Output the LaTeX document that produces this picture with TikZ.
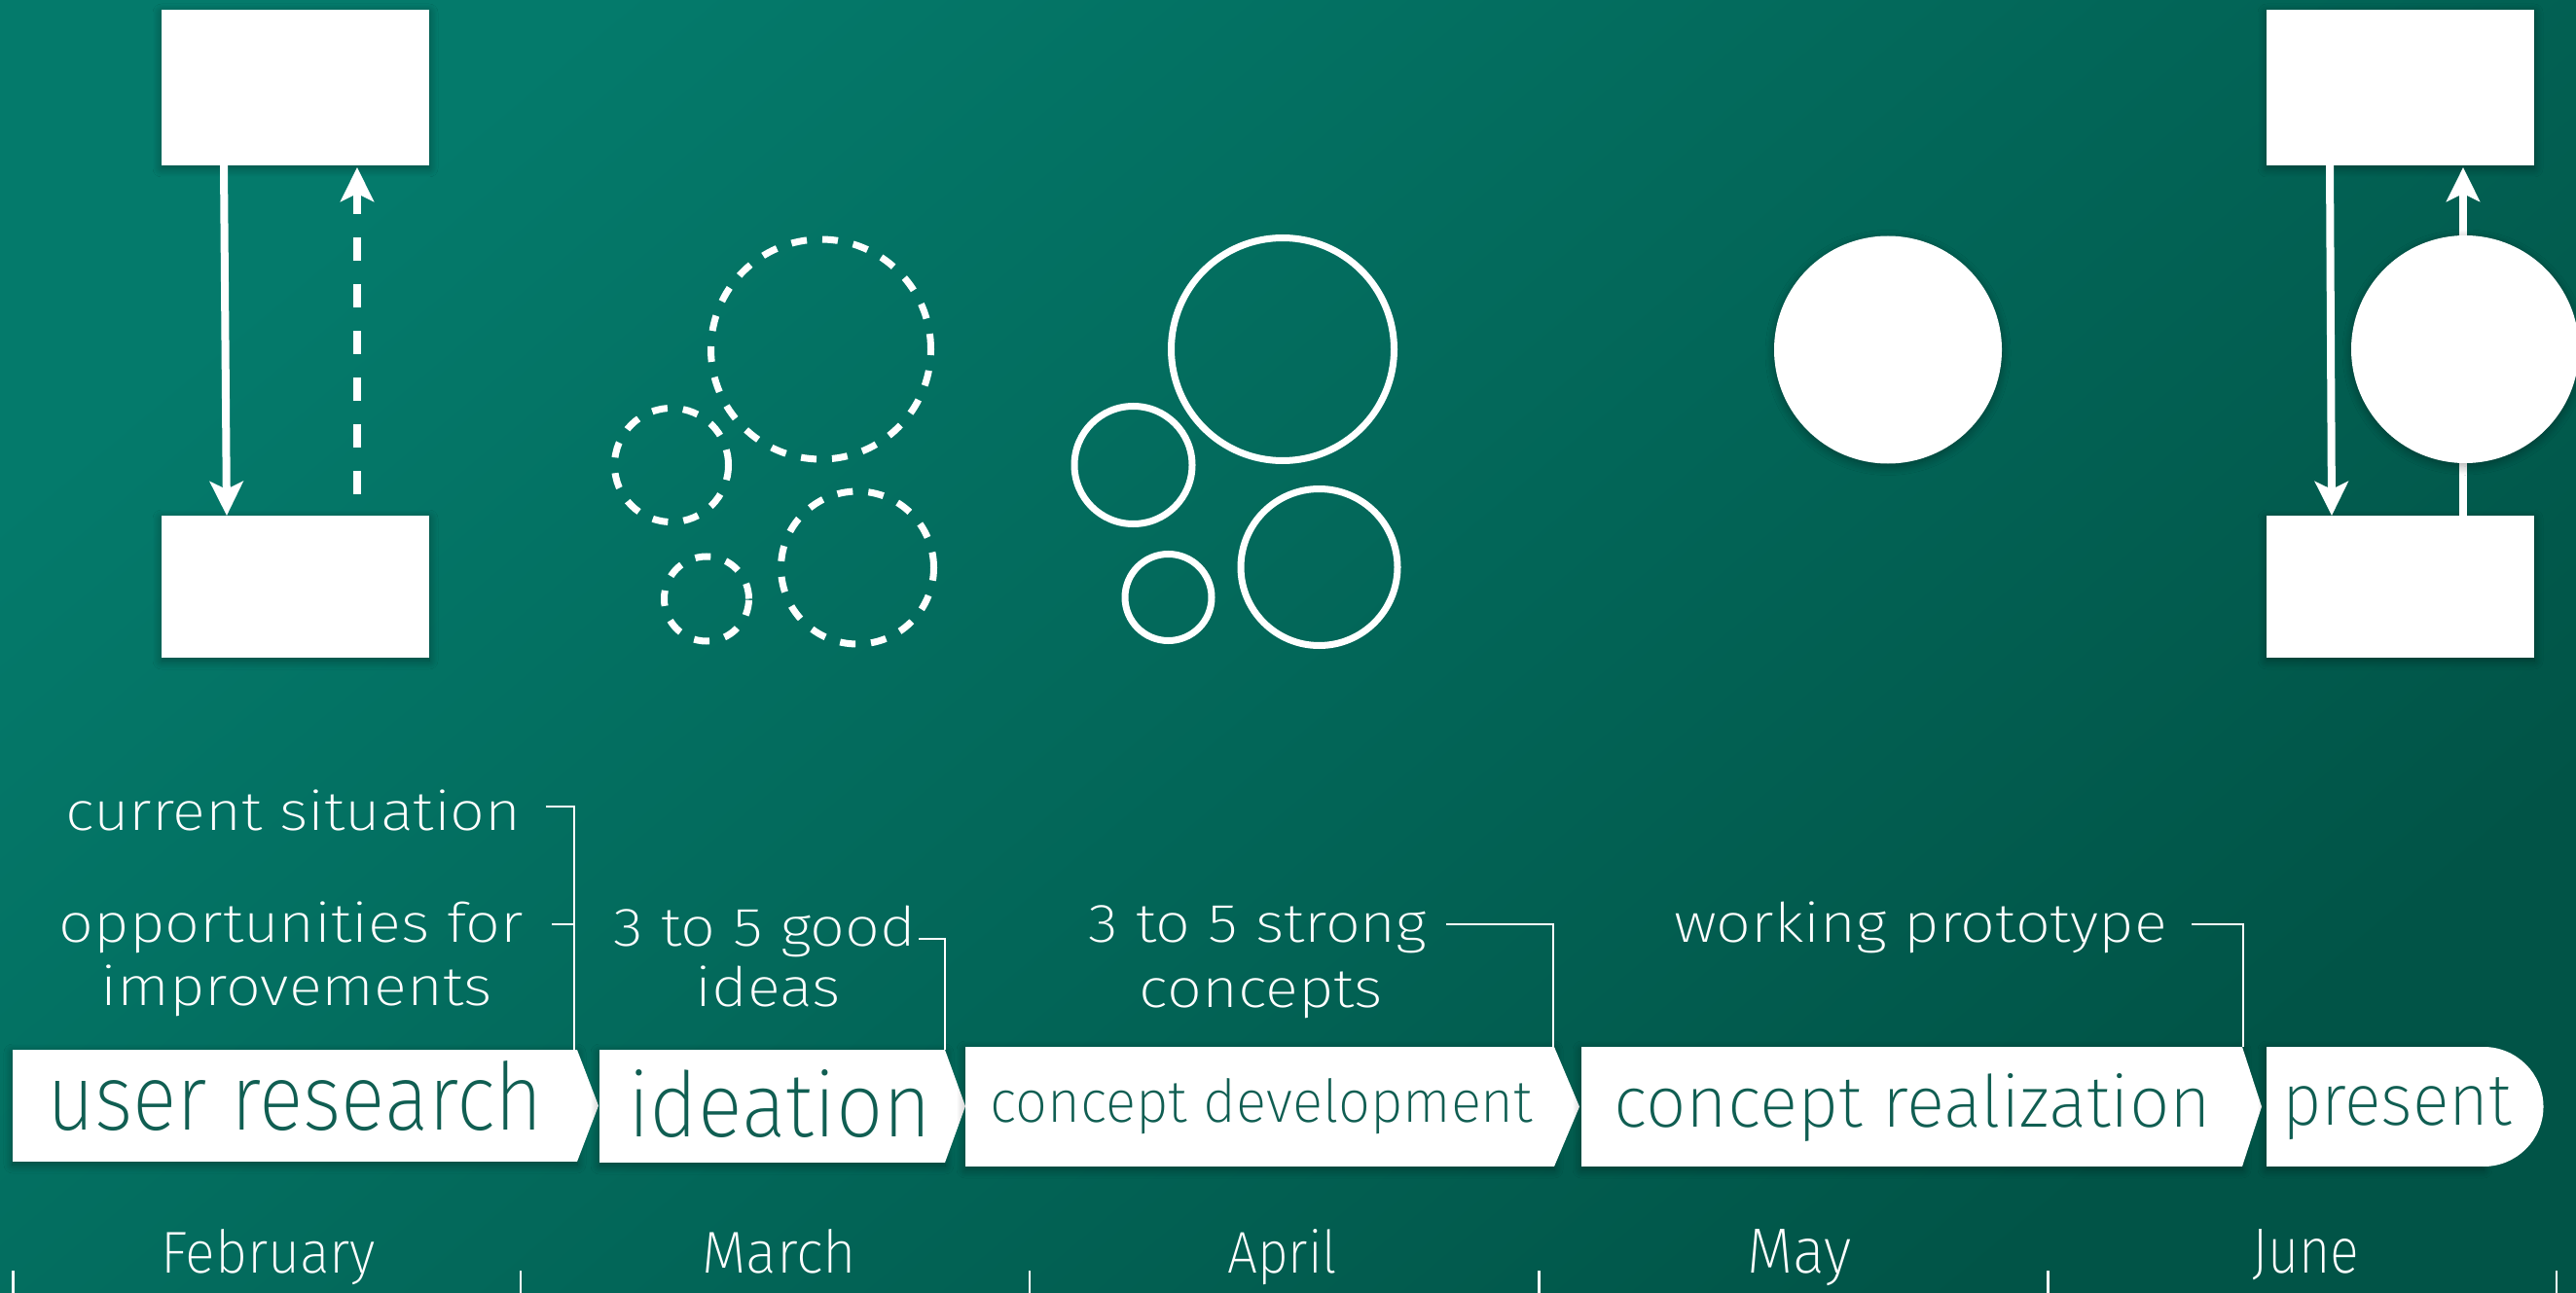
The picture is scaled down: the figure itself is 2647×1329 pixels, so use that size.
\documentclass[tikz,border=0pt]{standalone}
\usepackage{fontspec}
\setmainfont{Fira Sans}[UprightFont=* ExtraLight]
\usetikzlibrary{arrows.meta,shadows.blur}
\definecolor{bgA}{RGB}{4,122,107}
\definecolor{bgB}{RGB}{1,84,71}
\definecolor{ink}{RGB}{16,94,82}
\newcommand{\fitbox}[3]{\resizebox{#1pt}{#2pt}{#3}}
\newcommand{\lbltext}[1]{\scalebox{1.13}[1]{#1}}
\begin{document}
\begin{tikzpicture}[x=1pt,y=-1pt,
  sh/.style={blur shadow={shadow xshift=0pt, shadow yshift=-3pt, shadow blur radius=9pt, shadow opacity=35, shadow blur steps=12}},
  wbox/.style={fill=white, draw=none, inner sep=0pt, outer sep=0pt, rectangle},
  conn/.style={draw=white, line width=2.5pt},
  lbl/.style={text=white, inner sep=0pt, font=\fontsize{56}{60}\selectfont, anchor=base},
  month/.style={text=white, inner sep=0pt, font=\fontsize{60}{70}\selectfont, anchor=base west},
  btext/.style={text=ink, inner sep=0pt, font=\fontsize{80}{90}\selectfont, anchor=base west},
  flow/.style={draw=white, line width=8pt, -{Stealth[length=35pt,width=34pt,inset=8pt]}},
  ring/.style={circle, draw=white, line width=7pt, inner sep=0pt, outer sep=0pt},
  dring/.style={ring, dash pattern=on 16pt off 16pt},
  tickmark/.style={draw=white, line width=2.5pt},
]
\useasboundingbox (0,0) rectangle (2647,1329);
\shade[top color=bgA, bottom color=bgB, shading angle=40] (0,0) rectangle (2647,1329);

% ---- top-left: user research symbol
\node[wbox, sh, minimum width=275pt, minimum height=160pt] (tl1) at (303.5,90) {};
\node[wbox, sh, minimum width=275pt, minimum height=146pt] (tl2) at (303.5,603) {};
\draw[flow] ([xshift=-73.5pt]tl1.south) -- ([xshift=-70.5pt]tl2.north);
\draw[flow, dash pattern=on 24pt off 24pt] ([xshift=63.5pt,yshift=22pt]tl2.north) -- ([xshift=63.5pt,yshift=-2pt]tl1.south);

% ---- ideation: dashed circles
\node[dring, minimum size=226pt] (d1) at (843.5,359) {};
\node[dring, minimum size=117pt] (d2) at (690,478) {};
\node[dring, minimum size=87pt] (d3) at (726,615.5) {};
\node[dring, minimum size=157pt] (d4) at (881,583.5) {};

% ---- concept development: solid rings
\node[ring, minimum size=229pt] (c1) at (1318,359) {};
\node[ring, minimum size=121pt] (c2) at (1164.5,478) {};
\node[ring, minimum size=89pt] (c3) at (1200.5,614) {};
\node[ring, minimum size=161pt] (c4) at (1355.5,583) {};

% ---- concept realization: filled circle
\node[circle, sh, fill=white, inner sep=0pt, minimum size=234pt] (fc) at (1940,359.5) {};

% ---- present symbol
\node[wbox, sh, minimum width=275pt, minimum height=160pt] (tr1) at (2466.5,90) {};
\node[wbox, sh, minimum width=275pt, minimum height=146pt] (tr2) at (2466.5,603) {};
\draw[flow] ([xshift=-72.5pt]tr1.south) -- ([xshift=-70.5pt]tr2.north);
\draw[flow] ([xshift=64.5pt]tr2.north) -- ([xshift=64.5pt,yshift=-2pt]tr1.south);
\node[circle, sh, fill=white, inner sep=0pt, minimum size=234pt] (rc) at (2533,359) {};

% ---- process chevrons
\node[wbox, sh, minimum width=580pt, minimum height=115pt] (ur) at (303,1136.5) {};
\fill[white] (ur.north east) -- ([xshift=22pt]ur.east) -- (ur.south east) -- cycle;
\node[wbox, sh, minimum width=355pt, minimum height=116pt] (id) at (793.5,1137) {};
\fill[white] (id.north east) -- ([xshift=21pt]id.east) -- (id.south east) -- cycle;
\node[wbox, sh, minimum width=605pt, minimum height=123pt] (cd) at (1294.5,1137.5) {};
\fill[white] (cd.north east) -- ([xshift=26pt]cd.east) -- (cd.south east) -- cycle;
\node[wbox, sh, minimum width=679pt, minimum height=123pt] (cr) at (1964.5,1137.5) {};
\fill[white] (cr.north east) -- ([xshift=20pt]cr.east) -- (cr.south east) -- cycle;
\node[wbox, sh, minimum width=223pt, minimum height=123pt] (pr) at (2440.5,1137.5) {};
\fill[white] (pr.north east) arc (-90:90:61.5) -- cycle;

\node[btext] (tur) at (48,1161) {\fitbox{510}{71}{user research}};
\node[btext] (tid) at (645,1168) {\fitbox{312}{69}{ideation}};
\node[btext] (tcd) at (1017,1153) {\fitbox{558}{45}{concept development}};
\node[btext] (tcr) at (1658,1158) {\fitbox{614}{55}{concept realization}};
\node[btext] (tpr) at (2345,1156) {\fitbox{236}{49}{present}};

% ---- outcome labels
\node[lbl] (cs) at (301.5,853) {\lbltext{current situation}};
\node[lbl] (opp) at (299.5,968) {\lbltext{opportunities for}};
\node[lbl] (imp) at (304.5,1033) {\lbltext{improvements}};
\node[lbl] (good) at (786,972) {\lbltext{3 to 5 good}};
\node[lbl] (ideas) at (789.5,1034) {\lbltext{ideas}};
\node[lbl] (strong) at (1292.5,968) {\lbltext{3 to 5 strong}};
\node[lbl] (cpts) at (1296,1035) {\lbltext{concepts}};
\node[lbl] (proto) at (1973.5,968) {\lbltext{working prototype}};

\coordinate (urc) at ([xshift=-3pt]ur.north east);
\draw[conn] ([shift={(25,-24)}]cs.base east) -| (urc);
\coordinate (oppend) at ([shift={(29,-18)}]opp.base east);
\draw[conn] (oppend) -- (oppend -| urc);
\draw[conn] ([shift={(3,-7)}]good.base east) -| (id.north east);
\draw[conn] ([shift={(20,-18)}]strong.base east) -| ([xshift=-1pt]cd.north east);
\draw[conn] ([shift={(25,-18)}]proto.base east) -| ([xshift=1pt]cr.north east);

% ---- months
\node[month] (feb) at (165,1308) {\fitbox{221}{45}{February}};
\node[month] (mar) at (721,1308) {\fitbox{159}{45}{March}};
\node[month] (apr) at (1261,1308) {\fitbox{113}{45}{April}};
\node[month] (may) at (1795,1308) {\fitbox{107}{45}{May}};
\node[month] (jun) at (2314,1308) {\fitbox{110}{45}{June}};

\coordinate (t0) at (13.5,1306);
\coordinate (t1) at (535,1306);
\coordinate (t2) at (1058,1306);
\coordinate (t3) at (1581.5,1306);
\coordinate (t4) at (2104.5,1306);
\coordinate (t5) at (2627,1306);
\foreach \t in {t0,t1,t2,t3,t4,t5} \draw[tickmark] (\t) -- ++(0,30);
\end{tikzpicture}
\end{document}
